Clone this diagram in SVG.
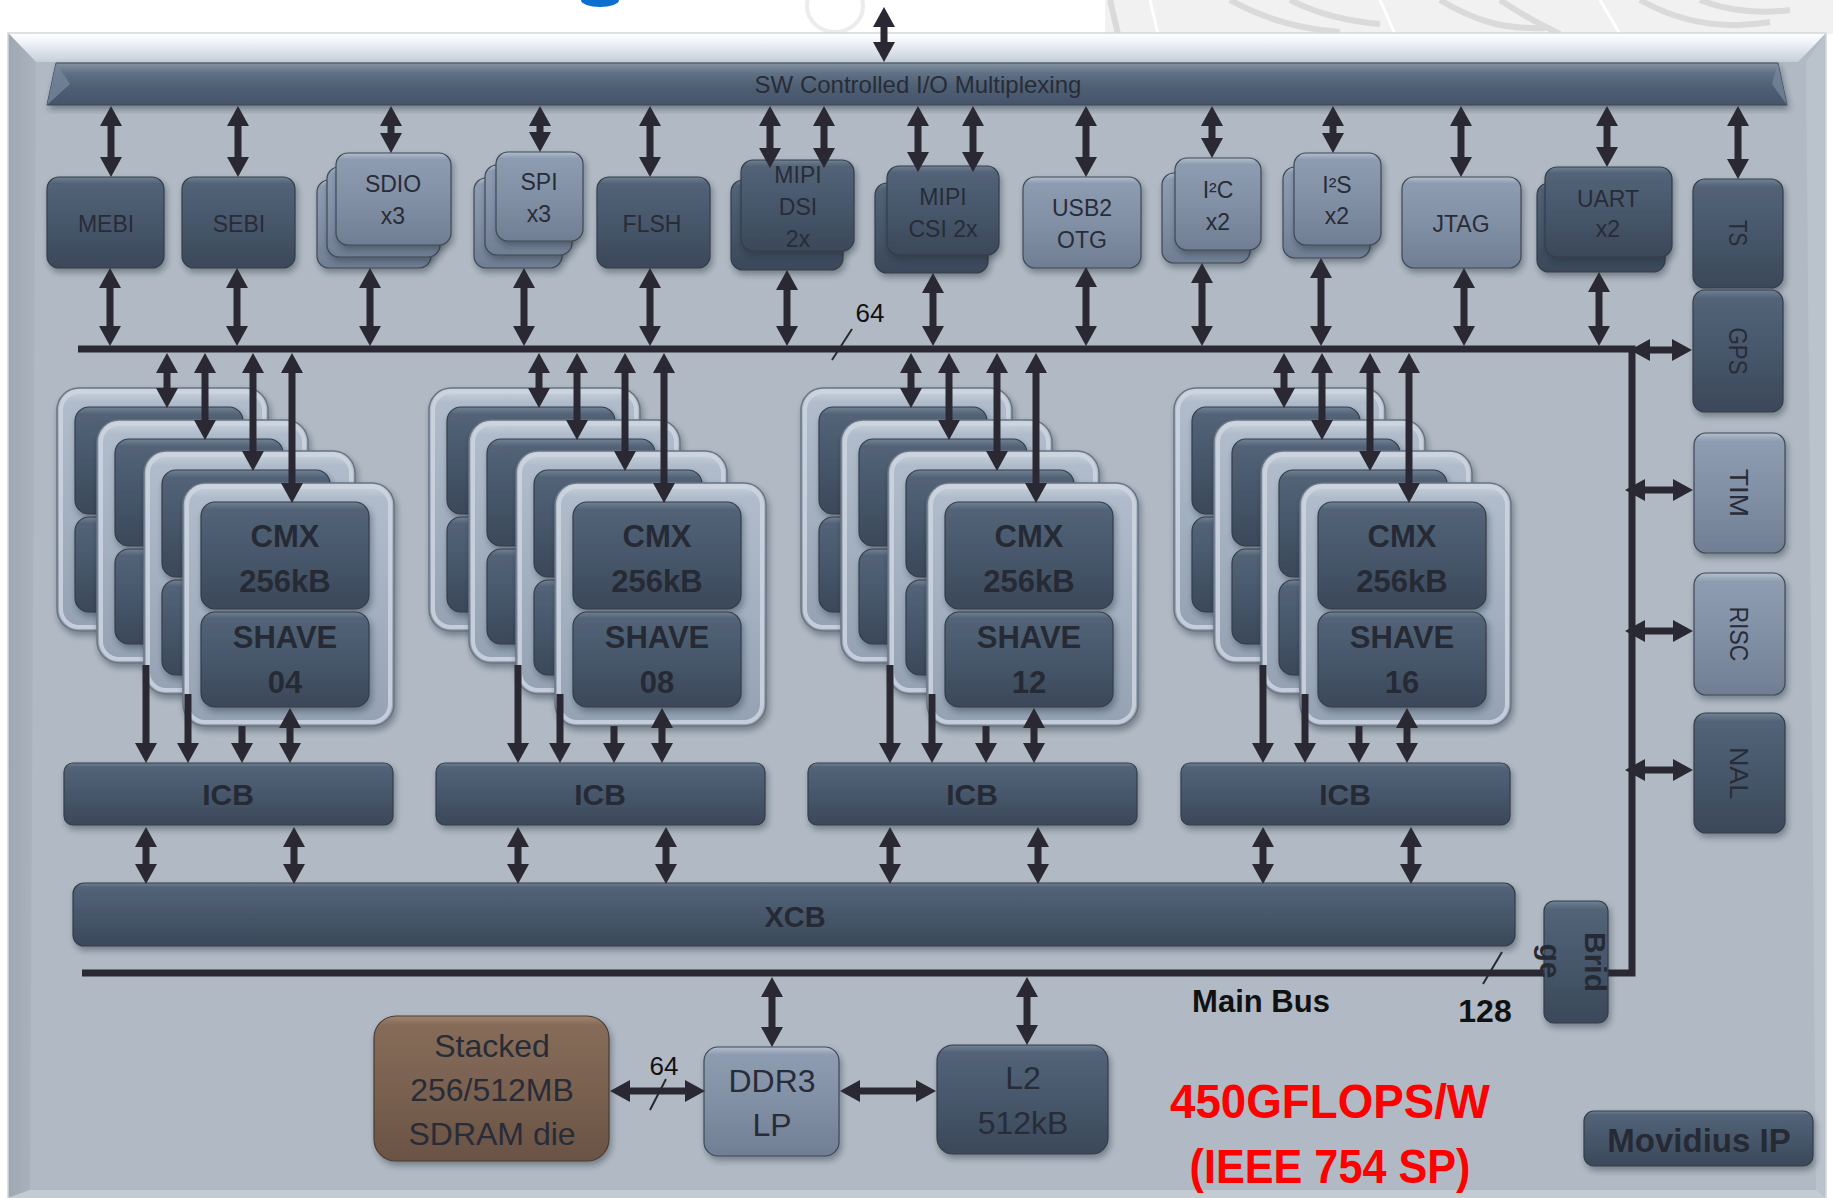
<svg xmlns="http://www.w3.org/2000/svg" xmlns:xlink="http://www.w3.org/1999/xlink" width="1833" height="1198" viewBox="0 0 1833 1198">
<style>
.dk{fill:url(#gDark);stroke:#343d4a;stroke-width:1.2;filter:url(#sh)}
.lt{fill:url(#gLight);stroke:#3f4856;stroke-width:1.2;filter:url(#sh)}
.bw{fill:url(#gBrown);stroke:#4a3b31;stroke-width:1.2;filter:url(#sh)}
.card{fill:url(#gCard);stroke:#687382;stroke-width:1.5;filter:url(#sh)}
.rim{fill:none;stroke:#ccd5df;stroke-width:4;opacity:.85}
.t{font-family:"Liberation Sans",Arial,sans-serif;font-size:23px;fill:#282c38;text-anchor:middle}
.tb{font-family:"Liberation Sans",Arial,sans-serif;font-weight:bold;font-size:30px;fill:#262a35;text-anchor:middle}
.big{font-size:32px}
.sh31{font-size:31px}
.rt{font-size:26px}
.ar{fill:none;stroke:#2a2933;stroke-width:7;marker-start:url(#ah);marker-end:url(#ah)}
.ar1{fill:none;stroke:#2a2933;stroke-width:7;marker-end:url(#ah)}
.bus{fill:none;stroke:#2a2933;stroke-width:7;stroke-linejoin:miter}
.sl{stroke:#2a2933;stroke-width:2}
.lbl{font-family:"Liberation Sans",Arial,sans-serif;font-size:26px;fill:#111;text-anchor:middle}
.blk{fill:#111}
.red{font-family:"Liberation Sans",Arial,sans-serif;font-weight:bold;font-size:49px;fill:#ff0000;text-anchor:middle}
</style>
<defs>
<linearGradient id="gDark" x1="0" y1="0" x2="0" y2="1">
<stop offset="0" stop-color="#718194"/><stop offset="0.07" stop-color="#536377"/><stop offset="0.5" stop-color="#47576b"/><stop offset="1" stop-color="#3b4859"/>
</linearGradient>
<linearGradient id="gLight" x1="0" y1="0" x2="0" y2="1">
<stop offset="0" stop-color="#b3bfce"/><stop offset="0.07" stop-color="#8e9cb1"/><stop offset="0.5" stop-color="#8290a6"/><stop offset="1" stop-color="#707e93"/>
</linearGradient>
<linearGradient id="gBrown" x1="0" y1="0" x2="0" y2="1">
<stop offset="0" stop-color="#a08470"/><stop offset="0.06" stop-color="#866c59"/><stop offset="0.5" stop-color="#7a6150"/><stop offset="1" stop-color="#6a5345"/>
</linearGradient>
<linearGradient id="gCard" x1="0" y1="0" x2="0" y2="1">
<stop offset="0" stop-color="#ccd5df"/><stop offset="0.06" stop-color="#b0bccb"/><stop offset="0.5" stop-color="#a3b0c0"/><stop offset="1" stop-color="#94a2b3"/>
</linearGradient>
<linearGradient id="gBar" x1="0" y1="0" x2="0" y2="1">
<stop offset="0" stop-color="#8593a3"/><stop offset="0.25" stop-color="#607084"/><stop offset="0.55" stop-color="#506074"/><stop offset="1" stop-color="#45546a"/>
</linearGradient>
<linearGradient id="gTop" x1="0" y1="0" x2="0" y2="1">
<stop offset="0" stop-color="#ffffff"/><stop offset="0.35" stop-color="#eef2f7"/><stop offset="1" stop-color="#c6cfd9"/>
</linearGradient>
<linearGradient id="gLeft" x1="0" y1="0" x2="1" y2="0">
<stop offset="0" stop-color="#9ea8b3"/><stop offset="1" stop-color="#aab3be"/>
</linearGradient>
<filter id="sh" x="-10%" y="-10%" width="125%" height="130%">
<feDropShadow dx="2" dy="4" stdDeviation="3" flood-color="#1e2430" flood-opacity="0.4"/>
</filter>
<marker id="ah" viewBox="0 0 20 22" refX="2" refY="11" markerWidth="20" markerHeight="22" markerUnits="userSpaceOnUse" orient="auto-start-reverse">
<path d="M0,0 L20,11 L0,22 z" fill="#2a2933"/>
</marker>
<g id="card">
<rect class="card" x="0" y="0" width="211" height="243" rx="22"/>
<rect class="rim" x="4" y="4" width="203" height="235" rx="18"/>
<rect class="dk" x="18" y="19" width="168" height="107" rx="14"/>
<rect class="dk" x="18" y="129" width="168" height="95" rx="14"/>
</g>
<g id="stack">
<use xlink:href="#card" x="57" y="388"/>
<use xlink:href="#card" x="97" y="420"/>
<use xlink:href="#card" x="144" y="451"/>
<use xlink:href="#card" x="183" y="483"/>
</g>
</defs>

<rect x="0" y="0" width="1833" height="1198" fill="#ffffff"/>
<g id="backdrop">
<ellipse cx="600" cy="0" rx="19" ry="7" fill="#0a6fd0"/>
<ellipse cx="835" cy="6" rx="28" ry="26" fill="none" stroke="#ececec" stroke-width="4"/>
<rect x="1105" y="0" width="728" height="34" fill="#f1f1f1"/>
<path d="M1110,0 L1118,34 M1230,0 Q1280,28 1340,32 M1290,0 Q1330,20 1380,24 M1440,0 C1470,18 1500,30 1545,28 M1500,0 Q1530,20 1560,34 M1640,0 Q1700,34 1770,22 M1700,0 Q1740,16 1790,10" fill="none" stroke="#dadada" stroke-width="6"/>
<path d="M1150,0 L1158,34 M1380,0 L1395,34 M1600,0 L1620,34" fill="none" stroke="#ffffff" stroke-width="3"/>
</g>

<g id="frame">
<rect x="8" y="33" width="1818" height="1170" fill="#b1bac4"/>
<polygon points="8,33 1826,33 1798,62 36,62" fill="url(#gTop)"/>
<polygon points="8,33 36,62 30,1190 8,1198" fill="url(#gLeft)"/>
<polygon points="1826,33 1826,1198 1816,1190 1806,62" fill="#bac2cb"/>
<polygon points="8,1198 30,1190 1816,1190 1826,1198" fill="#c3cbd3"/>
<rect x="8" y="33" width="1818" height="1170" fill="none" stroke="#d2d7dc" stroke-width="1.5"/>
</g>

<g id="sw-mux">
<polygon points="56,63 1778,63 1787,105 47,105" fill="url(#gBar)" stroke="#3c4756" stroke-width="1" filter="url(#sh)"/>
<polygon points="56,63 70,84 47,105" fill="#76859a" opacity="0.8"/>
<polygon points="1778,63 1772,84 1787,105" fill="#76859a" opacity="0.8"/>
<text class="t" x="918" y="93" style="font-size:24px">SW Controlled I/O Multiplexing</text>
</g>

<g id="mebi"><rect class="dk" x="47" y="177" width="117" height="91" rx="12"/><text class="t" x="106" y="232">MEBI</text></g>
<g id="sebi"><rect class="dk" x="182" y="177" width="113" height="91" rx="12"/><text class="t" x="239" y="232">SEBI</text></g>
<g id="sdio">
<rect class="lt" x="317" y="180" width="114" height="88" rx="12"/>
<rect class="lt" x="327" y="167" width="113" height="90" rx="12"/>
<rect class="lt" x="336" y="153" width="115" height="92" rx="12"/>
<text class="t" x="393" y="192">SDIO</text><text class="t" x="393" y="224">x3</text>
</g>
<g id="spi">
<rect class="lt" x="474" y="178" width="88" height="90" rx="12"/>
<rect class="lt" x="485" y="165" width="87" height="90" rx="12"/>
<rect class="lt" x="496" y="152" width="87" height="89" rx="12"/>
<text class="t" x="539" y="190">SPI</text><text class="t" x="539" y="222">x3</text>
</g>
<g id="flsh"><rect class="dk" x="597" y="177" width="113" height="91" rx="12"/><text class="t" x="652" y="232">FLSH</text></g>
<g id="mipi-dsi">
<rect class="dk" x="731" y="180" width="112" height="90" rx="12"/>
<rect class="dk" x="741" y="160" width="113" height="91" rx="12"/>
<text class="t" x="798" y="183">MIPI</text><text class="t" x="798" y="215">DSI</text><text class="t" x="798" y="247">2x</text>
</g>
<g id="mipi-csi">
<rect class="dk" x="875" y="183" width="113" height="90" rx="12"/>
<rect class="dk" x="887" y="166" width="112" height="89" rx="12"/>
<text class="t" x="943" y="205">MIPI</text><text class="t" x="943" y="237">CSI 2x</text>
</g>
<g id="usb2-otg"><rect class="lt" x="1023" y="177" width="118" height="91" rx="12"/><text class="t" x="1082" y="216">USB2</text><text class="t" x="1082" y="248">OTG</text></g>
<g id="i2c">
<rect class="lt" x="1162" y="173" width="88" height="90" rx="12"/>
<rect class="lt" x="1175" y="158" width="86" height="92" rx="12"/>
<text class="t" x="1218" y="198">I²C</text><text class="t" x="1218" y="230">x2</text>
</g>
<g id="i2s">
<rect class="lt" x="1283" y="167" width="87" height="91" rx="12"/>
<rect class="lt" x="1294" y="153" width="87" height="92" rx="12"/>
<text class="t" x="1337" y="193">I²S</text><text class="t" x="1337" y="224">x2</text>
</g>
<g id="jtag"><rect class="lt" x="1402" y="177" width="119" height="91" rx="12"/><text class="t" x="1461" y="232">JTAG</text></g>
<g id="uart">
<rect class="dk" x="1537" y="183" width="128" height="89" rx="12"/>
<rect class="dk" x="1545" y="167" width="127" height="90" rx="12"/>
<text class="t" x="1608" y="207">UART</text><text class="t" x="1608" y="237">x2</text>
</g>
<g id="ts"><rect class="dk" x="1693" y="179" width="90" height="109" rx="12"/><text class="t rt" transform="translate(1738,233) rotate(90)" y="9" textLength="26" lengthAdjust="spacingAndGlyphs">TS</text></g>
<g id="gps"><rect class="dk" x="1693" y="290" width="90" height="122" rx="12"/><text class="t rt" transform="translate(1738,351) rotate(90)" y="9" textLength="47" lengthAdjust="spacingAndGlyphs">GPS</text></g>
<g id="tim"><rect class="lt" x="1694" y="433" width="91" height="120" rx="12"/><text class="t rt" transform="translate(1739,493) rotate(90)" y="9" textLength="48" lengthAdjust="spacingAndGlyphs">TIM</text></g>
<g id="risc"><rect class="lt" x="1694" y="573" width="91" height="122" rx="12"/><text class="t rt" transform="translate(1739,634) rotate(90)" y="9" textLength="55" lengthAdjust="spacingAndGlyphs">RISC</text></g>
<g id="nal"><rect class="dk" x="1694" y="713" width="91" height="120" rx="12"/><text class="t rt" transform="translate(1739,773) rotate(90)" y="9" textLength="52" lengthAdjust="spacingAndGlyphs">NAL</text></g>

<g id="shave-04">
<use xlink:href="#stack"/>
<text class="tb sh31" x="285" y="547">CMX</text><text class="tb sh31" x="285" y="592">256kB</text>
<text class="tb sh31" x="285" y="648">SHAVE</text><text class="tb sh31" x="285" y="693">04</text>
</g>
<g id="shave-08" transform="translate(372,0)">
<use xlink:href="#stack"/>
<text class="tb sh31" x="285" y="547">CMX</text><text class="tb sh31" x="285" y="592">256kB</text>
<text class="tb sh31" x="285" y="648">SHAVE</text><text class="tb sh31" x="285" y="693">08</text>
</g>
<g id="shave-12" transform="translate(744,0)">
<use xlink:href="#stack"/>
<text class="tb sh31" x="285" y="547">CMX</text><text class="tb sh31" x="285" y="592">256kB</text>
<text class="tb sh31" x="285" y="648">SHAVE</text><text class="tb sh31" x="285" y="693">12</text>
</g>
<g id="shave-16" transform="translate(1117,0)">
<use xlink:href="#stack"/>
<text class="tb sh31" x="285" y="547">CMX</text><text class="tb sh31" x="285" y="592">256kB</text>
<text class="tb sh31" x="285" y="648">SHAVE</text><text class="tb sh31" x="285" y="693">16</text>
</g>

<g id="icb-1"><rect class="dk" x="64" y="763" width="329" height="62" rx="9"/><text class="tb" x="228" y="805">ICB</text></g>
<g id="icb-2"><rect class="dk" x="436" y="763" width="329" height="62" rx="9"/><text class="tb" x="600" y="805">ICB</text></g>
<g id="icb-3"><rect class="dk" x="808" y="763" width="329" height="62" rx="9"/><text class="tb" x="972" y="805">ICB</text></g>
<g id="icb-4"><rect class="dk" x="1181" y="763" width="329" height="62" rx="9"/><text class="tb" x="1345" y="805">ICB</text></g>
<g id="xcb"><rect class="dk" x="73" y="883" width="1442" height="63" rx="11"/><text class="tb" x="795" y="927" style="font-size:29px">XCB</text></g>

<g id="sdram"><rect class="bw" x="374" y="1016" width="235" height="145" rx="22"/>
<text class="t big" x="492" y="1057">Stacked</text><text class="t big" x="492" y="1101">256/512MB</text><text class="t big" x="492" y="1145">SDRAM die</text></g>
<g id="ddr3"><rect class="lt" x="704" y="1047" width="135" height="109" rx="14"/>
<text class="t big" x="772" y="1092">DDR3</text><text class="t big" x="772" y="1136">LP</text></g>
<g id="l2"><rect class="dk" x="937" y="1045" width="171" height="109" rx="16"/>
<text class="t big" x="1023" y="1089">L2</text><text class="t big" x="1023" y="1134">512kB</text></g>
<g id="movidius-ip"><rect class="dk" x="1584" y="1111" width="229" height="55" rx="10"/>
<text class="tb" x="1699" y="1152" style="font-size:33px">Movidius IP</text></g>

<g id="connectors">
<path class="bus" d="M78,349 H1632 V973 H82"/>
<path class="ar" d="M884,25 V44"/>
<path class="ar" d="M111,124 V159"/><path class="ar" d="M238,124 V159"/><path class="ar" d="M391,124 V135"/>
<path class="ar" d="M540,124 V134"/><path class="ar" d="M650,124 V159"/><path class="ar" d="M770,124 V150"/>
<path class="ar" d="M824,124 V150"/><path class="ar" d="M918,124 V154"/><path class="ar" d="M973,124 V154"/>
<path class="ar" d="M1086,124 V159"/><path class="ar" d="M1212,124 V140"/><path class="ar" d="M1333,124 V135"/>
<path class="ar" d="M1461,124 V159"/><path class="ar" d="M1607,124 V149"/><path class="ar" d="M1738,124 V161"/>
<path class="ar" d="M110,286 V328"/><path class="ar" d="M237,286 V328"/><path class="ar" d="M370,286 V328"/>
<path class="ar" d="M524,286 V328"/><path class="ar" d="M650,286 V328"/><path class="ar" d="M787,288 V328"/>
<path class="ar" d="M933,291 V328"/><path class="ar" d="M1086,285 V328"/><path class="ar" d="M1202,281 V328"/>
<path class="ar" d="M1321,276 V328"/><path class="ar" d="M1464,286 V328"/><path class="ar" d="M1599,290 V328"/>
<path class="ar" d="M1648,350 H1674"/><path class="ar" d="M1643,490 H1675"/><path class="ar" d="M1643,631 H1675"/><path class="ar" d="M1643,770 H1675"/>
<g id="cl-arrows-1">
<path class="ar" d="M167,371 V390"/><path class="ar" d="M205,371 V422"/><path class="ar" d="M253,371 V453"/><path class="ar" d="M292,371 V485"/>
<path class="ar1" d="M146,665 V745"/><path class="ar1" d="M188,694 V745"/><path class="ar1" d="M242,726 V745"/><path class="ar" d="M290,726 V745"/>
</g>
<use xlink:href="#cl-arrows-1" x="372"/>
<use xlink:href="#cl-arrows-1" x="744"/>
<use xlink:href="#cl-arrows-1" x="1117"/>
<path class="ar" d="M146,845 V866"/><path class="ar" d="M294,845 V866"/><path class="ar" d="M518,845 V866"/><path class="ar" d="M666,845 V866"/>
<path class="ar" d="M890,845 V866"/><path class="ar" d="M1038,845 V866"/><path class="ar" d="M1263,845 V866"/><path class="ar" d="M1411,845 V866"/>
<path class="ar" d="M772,995 V1029"/><path class="ar" d="M1027,995 V1027"/>
<path class="ar" d="M628,1091 H687"/><path class="ar" d="M858,1091 H918"/>
<line class="sl" x1="852" y1="329" x2="832" y2="360"/>
<line class="sl" x1="666" y1="1079" x2="650" y2="1110"/>
<line class="sl" x1="1502" y1="952" x2="1483" y2="984"/>
</g>

<g id="bridge"><rect class="dk" x="1544" y="901" width="64" height="122" rx="10"/>
<text class="tb" transform="translate(1585,962) rotate(90)">Brid</text>
<text class="tb" transform="translate(1540,961) rotate(90)">ge</text></g>

<g id="labels">
<text class="lbl" x="870" y="322">64</text>
<text class="lbl" x="664" y="1075">64</text>
<text class="tb blk" x="1485" y="1022" style="font-size:32px">128</text>
<text class="tb blk" x="1261" y="1012" style="font-size:31px">Main Bus</text>
<text class="red" x="1330" y="1118" textLength="320" lengthAdjust="spacingAndGlyphs">450GFLOPS/W</text>
<text class="red" x="1330" y="1183" textLength="281" lengthAdjust="spacingAndGlyphs">(IEEE 754 SP)</text>
</g>
</svg>
